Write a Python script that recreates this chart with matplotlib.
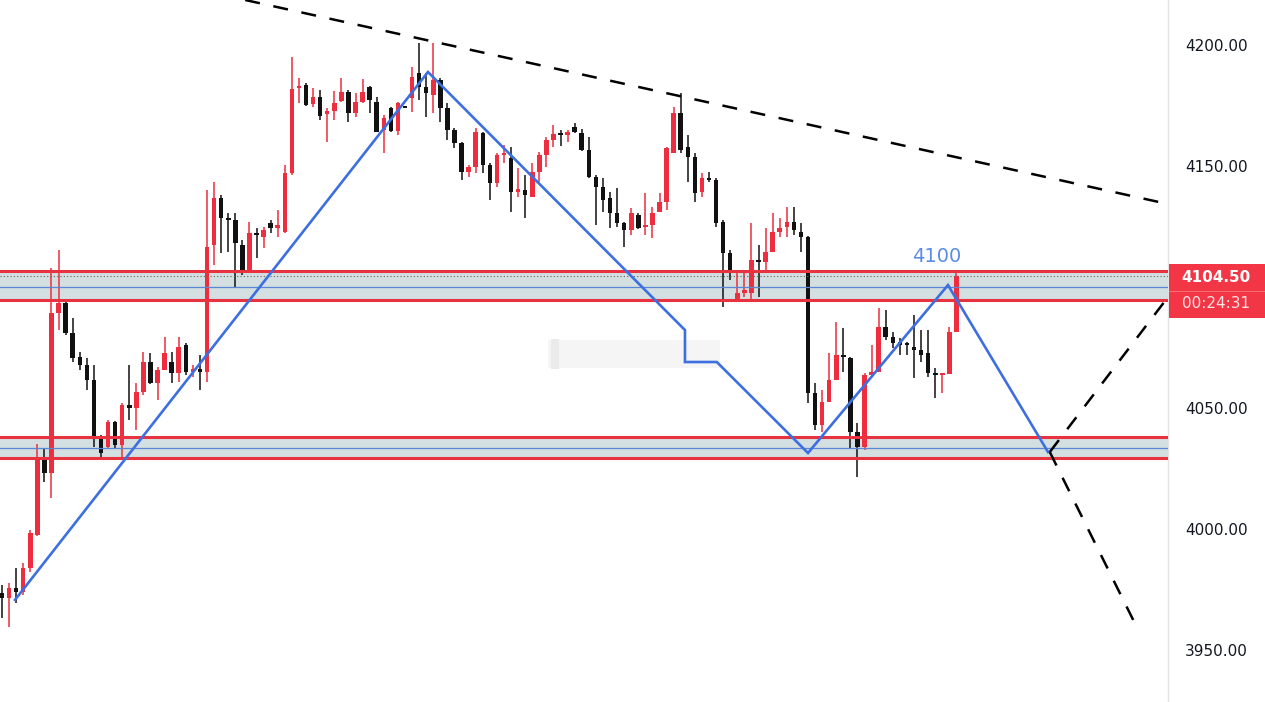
import matplotlib
matplotlib.use("Agg")
import matplotlib.pyplot as plt
from matplotlib.patches import Rectangle
import numpy as np

# ---------------- data (prices) ----------------
opens = [3973.6, 3971.5, 3975.6, 3974.0, 3983.9, 3997.5, 4029.8, 4023.2, 4089.3, 4093.4,
         4081.0, 4071.1, 4067.8, 4061.6, 4038.0, 4033.9, 4044.2, 4034.7, 4051.3, 4050.0,
         4056.6, 4069.0, 4060.3, 4065.7, 4069.0, 4064.5, 4076.0, 4064.9, 4066.1, 4064.9,
         4117.4, 4136.8, 4128.1, 4127.7, 4117.4, 4106.2, 4122.3, 4120.7, 4126.5, 4124.4,
         4122.7, 4147.1, 4182.2, 4183.5, 4175.6, 4178.5, 4171.5, 4172.7, 4176.9, 4180.6,
         4171.9, 4176.5, 4182.7, 4176.5, 4164.9, 4174.0, 4164.5, 4174.4, 4178.1, 4188.4,
         4182.7, 4179.3, 4185.5, 4174.0, 4164.9, 4159.5, 4147.5, 4149.6, 4163.6, 4150.4,
         4143.0, 4154.6, 4153.3, 4139.3, 4140.1, 4137.2, 4147.5, 4154.6, 4160.7, 4163.6,
         4162.8, 4166.1, 4163.6, 4156.6, 4145.5, 4141.3, 4136.8, 4130.6, 4126.5, 4123.6,
         4129.8, 4124.8, 4125.6, 4131.0, 4135.1, 4155.4, 4171.9, 4157.8, 4153.7, 4139.3,
         4144.6, 4144.2, 4126.9, 4114.1, 4094.6, 4097.5, 4097.5, 4111.2, 4110.3, 4114.5,
         4122.7, 4124.8, 4126.9, 4122.7, 4120.7, 4056.2, 4043.0, 4052.5, 4061.6, 4071.9,
         4070.7, 4040.1, 4033.9, 4063.7, 4064.9, 4083.5, 4079.3, 4077.3, 4076.5, 4075.2,
         4074.0, 4072.7, 4064.5, 4063.7, 4064.1, 4081.4]
highs = [3976.9, 3977.7, 3983.9, 3986.0, 3999.6, 4035.1, 4033.5, 4107.9, 4115.3, 4094.6,
         4087.2, 4073.1, 4070.7, 4067.8, 4038.9, 4045.0, 4044.5, 4052.1, 4067.8, 4060.3,
         4073.1, 4072.7, 4067.0, 4079.3, 4073.1, 4079.3, 4076.9, 4067.8, 4071.9, 4140.1,
         4143.4, 4138.0, 4130.6, 4130.6, 4119.4, 4126.9, 4124.4, 4124.8, 4127.7, 4131.8,
         4150.4, 4195.0, 4186.4, 4184.3, 4182.2, 4181.4, 4174.0, 4181.0, 4186.4, 4181.4,
         4180.2, 4186.0, 4182.9, 4178.5, 4171.1, 4174.3, 4176.3, 4174.6, 4190.9, 4200.8,
         4188.4, 4200.8, 4186.4, 4176.0, 4165.7, 4159.9, 4150.4, 4165.7, 4164.1, 4151.2,
         4155.4, 4158.7, 4157.8, 4149.2, 4146.3, 4151.2, 4155.8, 4162.0, 4167.0, 4164.9,
         4164.9, 4167.8, 4165.3, 4162.0, 4146.3, 4145.0, 4139.3, 4140.9, 4126.9, 4132.7,
         4130.6, 4138.9, 4133.1, 4138.9, 4157.8, 4174.4, 4180.2, 4162.8, 4155.4, 4147.1,
         4147.5, 4145.0, 4127.7, 4115.3, 4106.2, 4107.0, 4126.5, 4117.4, 4124.4, 4130.6,
         4128.5, 4133.1, 4133.1, 4126.5, 4121.0, 4060.3, 4057.4, 4072.7, 4085.6, 4083.1,
         4071.1, 4043.8, 4064.5, 4076.0, 4091.3, 4090.5, 4081.4, 4078.9, 4077.3, 4088.4,
         4082.2, 4082.2, 4066.5, 4064.3, 4083.5, 4106.2]
lows = [3963.2, 3959.5, 3969.4, 3972.7, 3982.3, 3997.0, 4019.4, 4012.8, 4082.2, 4080.2,
        4069.0, 4065.7, 4057.4, 4033.9, 4028.5, 4033.5, 4033.5, 4029.8, 4045.0, 4040.9,
        4055.4, 4060.0, 4053.3, 4065.5, 4060.3, 4060.8, 4063.6, 4062.8, 4057.4, 4060.8,
        4109.1, 4114.1, 4114.5, 4100.0, 4105.0, 4106.0, 4112.0, 4116.1, 4122.3, 4120.7,
        4122.3, 4146.3, 4176.0, 4175.0, 4174.4, 4169.0, 4159.9, 4169.0, 4176.5, 4168.2,
        4170.2, 4176.0, 4171.9, 4164.0, 4155.4, 4164.2, 4162.8, 4173.8, 4172.3, 4177.3,
        4170.2, 4171.9, 4168.2, 4160.7, 4157.4, 4144.2, 4145.5, 4147.1, 4147.1, 4136.0,
        4141.3, 4151.2, 4131.0, 4137.2, 4128.5, 4137.0, 4143.4, 4149.6, 4157.8, 4158.3,
        4159.9, 4163.6, 4156.4, 4145.0, 4125.6, 4131.0, 4124.4, 4124.8, 4116.5, 4121.5,
        4124.0, 4121.5, 4120.3, 4130.8, 4131.8, 4155.2, 4155.4, 4143.4, 4135.1, 4137.2,
        4143.4, 4124.8, 4091.7, 4102.9, 4093.8, 4095.9, 4094.6, 4095.9, 4106.2, 4114.3,
        4120.7, 4120.7, 4121.5, 4114.5, 4052.1, 4040.9, 4040.1, 4052.3, 4061.4, 4064.9,
        4033.5, 4021.5, 4032.7, 4063.5, 4064.7, 4078.1, 4074.8, 4071.9, 4071.9, 4062.4,
        4069.0, 4062.8, 4054.1, 4056.2, 4063.9, 4081.2]
closes = [3971.5, 3975.6, 3974.0, 3983.9, 3998.4, 4029.8, 4023.2, 4089.3, 4093.4, 4081.0,
          4070.7, 4067.8, 4061.6, 4038.0, 4031.4, 4044.2, 4034.7, 4051.3, 4050.0, 4056.6,
          4069.0, 4060.3, 4065.7, 4072.7, 4064.5, 4075.2, 4064.9, 4066.1, 4064.9, 4116.5,
          4136.8, 4128.5, 4127.7, 4118.2, 4106.2, 4122.3, 4121.5, 4123.6, 4124.4, 4125.6,
          4147.1, 4181.8, 4183.1, 4175.2, 4178.5, 4170.7, 4172.7, 4176.0, 4180.6, 4171.9,
          4176.5, 4180.6, 4177.3, 4164.1, 4169.8, 4164.5, 4176.0, 4174.0, 4186.8, 4182.7,
          4180.2, 4185.5, 4174.0, 4164.9, 4159.5, 4147.5, 4149.6, 4164.1, 4150.4, 4143.0,
          4154.6, 4155.4, 4139.3, 4140.5, 4138.0, 4147.5, 4154.6, 4160.7, 4163.2, 4162.8,
          4164.1, 4164.1, 4156.6, 4145.5, 4141.3, 4136.0, 4130.6, 4126.5, 4123.6, 4130.6,
          4124.4, 4125.6, 4130.6, 4135.1, 4157.4, 4171.9, 4156.6, 4153.7, 4138.9, 4145.0,
          4144.2, 4126.5, 4114.1, 4106.2, 4097.5, 4098.8, 4111.2, 4110.3, 4114.5, 4122.7,
          4124.4, 4126.9, 4123.6, 4120.7, 4056.2, 4043.0, 4052.5, 4061.6, 4071.9, 4071.1,
          4040.1, 4033.9, 4063.7, 4064.9, 4083.5, 4079.3, 4076.9, 4076.0, 4076.0, 4074.0,
          4071.9, 4064.5, 4063.7, 4064.1, 4081.4, 4104.5]

upper_zone = (4094.6, 4106.8, 4100.0)   # bottom, top, mid
lower_zone = (4029.4, 4038.0, 4033.5)

zigzag_x = [1.84, 60.25, 96.6, 96.6, 101.1, 114.0, 133.8, 147.95]
zigzag_y = [3970.7, 4188.85, 4082.2, 4069.0, 4069.0, 4031.4, 4100.8, 4031.8]

trend_x = [34.4, 164.9]
trend_y = [4218.6, 4134.3]
proj_up_x = [148.2, 164.6]
proj_up_y = [4031.8, 4094.6]
proj_dn_x = [148.2, 160.0]
proj_dn_y = [4031.8, 3962.4]

yticks = [3950, 4000, 4050, 4150, 4200]
timer_text = "00:24:31"
peak_label = "4100"

# ---------------- figure ----------------
W, H = 1265, 702
fig = plt.figure(figsize=(W / 100, H / 100), dpi=100)
fig.patch.set_facecolor("white")
ax = fig.add_axes([0, 0, 1168 / W, 1])
ax.set_facecolor("white")

RED = "#ee2e3e"
BLACK = "#111111"
ZRED = "#e8323f"
ZFILL = "#d3dfe0"
BLUE = "#3d6fe0"

o = np.array(opens); h = np.array(highs); l = np.array(lows); c = np.array(closes)
x = np.arange(len(o))
up = c >= o
colors = np.where(up, RED, BLACK)
bottom = np.minimum(o, c)
height = np.maximum(np.abs(c - o), 0.7)
ax.vlines(x, l, h, colors=colors, lw=1.1, zorder=2)
ax.bar(x, height, bottom=bottom, width=0.64, color=colors, zorder=2.1, linewidth=0)

# zones
for zb, zt, zm in (upper_zone, lower_zone):
    ax.axhspan(zb, zt, color=ZFILL, zorder=0.5, lw=0)
    ax.axhline(zt, color=ZRED, lw=2.2, zorder=3)
    ax.axhline(zb, color=ZRED, lw=2.2, zorder=3)
    ax.axhline(zm, color="#5b86d6", lw=0.9, zorder=2.9)

ax.axhline(closes[-1], color="#666666", lw=0.8, ls=(0, (1, 2)), zorder=2.8)

# watermark-like blurred patch
ax.add_patch(Rectangle((77.2, 4066.5), 24.3, 11.5, color="#f5f5f5", zorder=1, lw=0))
ax.add_patch(Rectangle((77.6, 4066.0), 1.2, 12.5, color="#ebebeb", zorder=1.1, lw=0))

# blue zigzag
ax.plot(zigzag_x, zigzag_y, color=BLUE, lw=1.9, zorder=4, solid_joinstyle="miter")
ax.text(132.2, 4112.8, peak_label, color="#5a8be8", fontsize=14, ha="center", va="center", zorder=5)

# dashed lines
dash = (0, (6, 5.5))
for xs, ys in ((trend_x, trend_y), (proj_up_x, proj_up_y), (proj_dn_x, proj_dn_y)):
    ax.plot(xs, ys, color="black", lw=1.8, ls=dash, zorder=4)

ax.set_xlim(-0.283, 164.92)
ax.set_ylim(3928.5, 4218.6)
ax.set_xticks([])
ax.yaxis.tick_right()
ax.set_yticks(yticks)
ax.set_yticklabels([f"{v:.2f}" for v in yticks])
ax.tick_params(axis="y", length=0, pad=12.2, labelsize=11, labelcolor="#131722")
for s in ("left", "top", "bottom"):
    ax.spines[s].set_visible(False)
ax.spines["right"].set_color("#e3e3e3")
ax.spines["right"].set_linewidth(1)

# price box on the right axis
box_x0 = 1169 / W
fig.add_artist(Rectangle((box_x0, 1 - 318 / H), 1 - box_x0, 54 / H,
                         transform=fig.transFigure, color="#f23645", lw=0, zorder=5))
fig.add_artist(plt.Line2D([box_x0, 1], [1 - 290.5 / H, 1 - 290.5 / H],
                          transform=fig.transFigure, color="#f56b76", lw=0.8, zorder=6))
fig.text(1216 / W, 1 - 277 / H, f"{closes[-1]:.2f}", color="white", fontsize=11,
         ha="center", va="center", zorder=7, fontweight="bold")
fig.text(1216 / W, 1 - 304 / H, timer_text, color="#ffe3e5", fontsize=11,
         ha="center", va="center", zorder=7)

fig.savefig("out.png", dpi=100)
